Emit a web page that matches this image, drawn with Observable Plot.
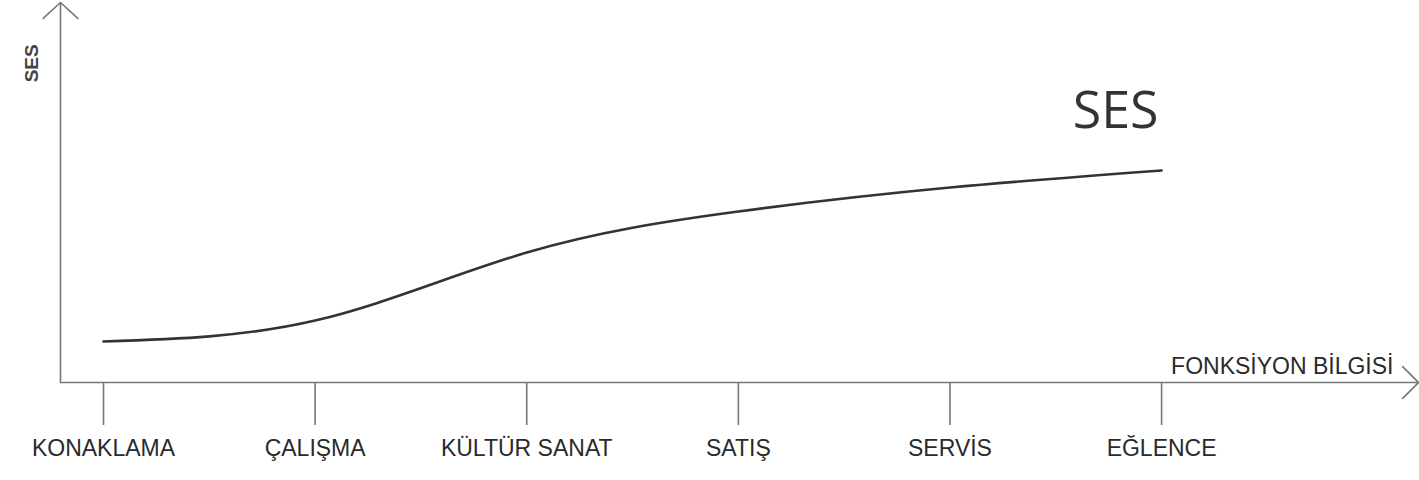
<!DOCTYPE html>
<html>
<head>
<meta charset="utf-8">
<script src="https://cdn.jsdelivr.net/npm/d3@7"></script>
<script src="https://cdn.jsdelivr.net/npm/@observablehq/plot@0.6"></script>
<style>
  html, body { margin: 0; padding: 0; background: #fff; }
</style>
</head>
<body>
<div id="chart"></div>
<script>
const categories = ["KONAKLAMA", "ÇALIŞMA", "KÜLTÜR SANAT", "SATIŞ", "SERVİS", "EĞLENCE"];
const sesValues = [10.8, 16.3, 34.2, 45.0, 51.3, 55.8];
const yAxisTitle = "SES";
const xAxisTitle = "FONKSİYON BİLGİSİ";
const seriesLabel = "SES";

const xMin = -0.2032, xMax = 6.214;
const yMin = 0, yMax = 100;

const data = categories.map((c, i) => ({i, c, v: sesValues[i]}));

const chart = Plot.plot({
  width: 1419,
  height: 480,
  marginLeft: 60,
  marginRight: 1,
  marginTop: 2,
  marginBottom: 98,
  style: {fontFamily: "'Liberation Sans', Arial, sans-serif", background: "#fff"},
  x: {domain: [xMin, xMax], axis: null},
  y: {domain: [yMin, yMax], axis: null},
  marks: [
    Plot.axisX(d3.range(categories.length), {
      tickFormat: i => categories[i],
      tickSize: 43,
      tickPadding: 14,
      stroke: "#777",
      strokeWidth: 1.6,
      fontSize: 23,
      fill: "#2a2a2a",
      label: null
    }),
    Plot.arrow([0], {x1: xMin, x2: xMax, y1: yMin, y2: yMin, stroke: "#777", strokeWidth: 1.6, headLength: 21, headAngle: 90, bend: 0}),
    Plot.arrow([0], {x1: xMin, x2: xMin, y1: yMin, y2: yMax, stroke: "#777", strokeWidth: 1.6, headLength: 22, headAngle: 95, bend: 0}),
    Plot.line(data, {x: "i", y: "v", curve: "natural", stroke: "#333", strokeWidth: 2.6}),
    Plot.text([seriesLabel], {x: categories.length - 1, y: 71.4, dx: -3, text: d => d, textAnchor: "end", lineAnchor: "middle", fontSize: 52, fontFamily: "'Open Sans', sans-serif", fill: "#333"}),
    Plot.text([xAxisTitle], {x: xMax, y: yMin, dx: -25, dy: -16, text: d => d, textAnchor: "end", lineAnchor: "middle", fontSize: 23, fill: "#2a2a2a"}),
    Plot.text([yAxisTitle], {x: xMin, y: 84, dx: -29, text: d => d, rotate: -90, textAnchor: "middle", lineAnchor: "middle", fontSize: 19, fontWeight: "bold", fill: "#444"})
  ]
});
document.getElementById("chart").appendChild(chart);
</script>
</body>
</html>
